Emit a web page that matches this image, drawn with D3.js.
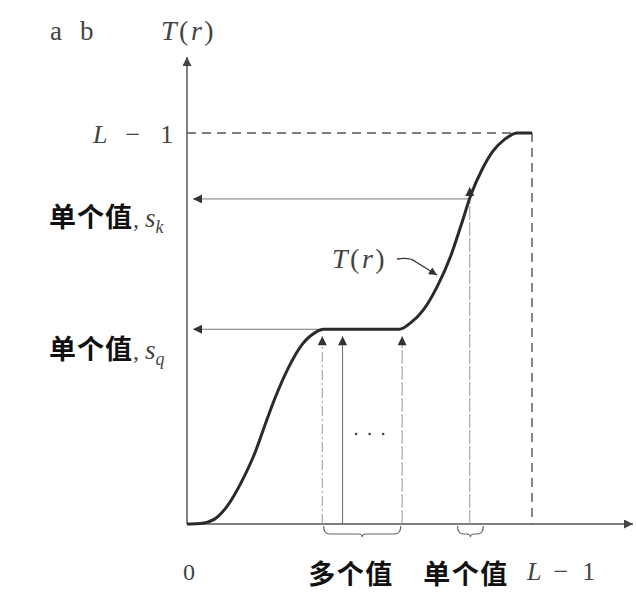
<!DOCTYPE html>
<html><head><meta charset="utf-8">
<script src="https://cdn.jsdelivr.net/npm/d3@7"></script>
<style>body{margin:0;background:#fff}</style>
</head><body>
<svg id="c" width="636" height="596"></svg>
<script>
// ---- data (intensity units, L-1 = 255) ----
const LMAX = 255;
const curveR = [0, 3, 10, 20, 30, 40, 50, 57, 65, 75, 85, 95, 101, 130, 157, 165, 175, 185, 195, 203, 210, 218, 226, 235, 244, 255];
const curveT = [0, 0, 0.3, 3, 12, 27, 46, 63, 82, 102, 117, 125, 127, 127, 127, 131, 140, 155, 175, 196, 215, 231, 243, 251, 255, 255];
const sQ = 127;            // single value s_q (plateau)
const sK = 212;            // single value s_k
const manyR = [100, 115, 159]; // many r values mapping to s_q
const manyStyle = ["dashdot", "solid", "dotted"];
const singleR = 209;       // single r mapping to s_k
const braceMany = [101, 158];
const braceSingle = [200, 219];
const xTickLabels = ["0", "多个值", "单个值"];
const yLabels = ["单个值", "单个值"];
const ySubs = ["k", "q"];

const svg = d3.select("#c");
const x = d3.scaleLinear().domain([0, LMAX]).range([187, 532]);
const y = d3.scaleLinear().domain([0, LMAX]).range([524, 133]);

const axisCol = "#555", thin = "#777";
const defs = svg.append("defs");
function marker(id, w, h, col) {
  defs.append("marker").attr("id", id).attr("viewBox", "0 0 10 10")
    .attr("refX", 10).attr("refY", 5).attr("markerWidth", w).attr("markerHeight", h)
    .attr("markerUnits", "userSpaceOnUse").attr("orient", "auto")
    .append("path").attr("d", "M0,0 L10,5 L0,10 Z").attr("fill", col);
}
marker("ax", 15, 9, "#444");
marker("ar", 15, 9, "#333");
marker("sm", 12, 8, "#333");

// axes
svg.append("line").attr("x1", x(0)).attr("y1", y(0)).attr("x2", x(0)).attr("y2", 57)
  .attr("stroke", axisCol).attr("stroke-width", 1.5).attr("marker-end", "url(#ax)");
svg.append("line").attr("x1", x(0)).attr("y1", y(0)).attr("x2", 633).attr("y2", y(0))
  .attr("stroke", axisCol).attr("stroke-width", 1.5).attr("marker-end", "url(#ax)");

// dashed L-1 guides
svg.append("path").attr("d", `M${x(0)},${y(LMAX)} H${x(LMAX)} V${y(0)}`)
  .attr("fill", "none").attr("stroke", "#555").attr("stroke-width", 1.4).attr("stroke-dasharray", "9,6");

// horizontal arrows to s_q and s_k
const curvePts = curveR.map((r, i) => [r, curveT[i]]);
svg.append("line").attr("x1", x(101)).attr("y1", y(sQ)).attr("x2", x(0) + 6).attr("y2", y(sQ))
  .attr("stroke", thin).attr("stroke-width", 1).attr("marker-end", "url(#ar)");
svg.append("line").attr("x1", x(208)).attr("y1", y(sK)).attr("x2", x(0) + 6).attr("y2", y(sK))
  .attr("stroke", thin).attr("stroke-width", 1).attr("marker-end", "url(#ar)");

// vertical arrows
const dashes = {dashdot: "10,3,2,3", solid: null, dotted: "14,2"};
manyR.forEach((r, i) => {
  svg.append("line").attr("x1", x(r)).attr("y1", y(0)).attr("x2", x(r)).attr("y2", y(sQ) + 7)
    .attr("stroke", i === 1 ? "#666" : "#999").attr("stroke-width", 1)
    .attr("stroke-dasharray", dashes[manyStyle[i]]).attr("marker-end", "url(#ar)");
});
svg.append("line").attr("x1", x(singleR)).attr("y1", y(0)).attr("x2", x(singleR)).attr("y2", y(sK) - 12)
  .attr("stroke", "#999").attr("stroke-width", 1).attr("stroke-dasharray", "14,2").attr("marker-end", "url(#ar)");

// curve
svg.append("path").datum(curvePts)
  .attr("d", d3.line().x(d => x(d[0])).y(d => y(d[1])).curve(d3.curveMonotoneX))
  .attr("fill", "none").attr("stroke", "#2a2a2a").attr("stroke-width", 3);

// dots
[125, 135, 145].forEach(r => svg.append("circle").attr("cx", x(r)).attr("cy", 434).attr("r", 1.3).attr("fill", "#444"));

// braces
function brace(r0, r1) {
  const a = x(r0), b = x(r1), m = (a + b) / 2, t = y(0) + 2, h = 8;
  svg.append("path")
    .attr("d", `M${a},${t} Q${a},${t + h} ${a + 6},${t + h} H${m - 4} Q${m},${t + h} ${m},${t + h + 3} Q${m},${t + h} ${m + 4},${t + h} H${b - 6} Q${b},${t + h} ${b},${t}`)
    .attr("fill", "none").attr("stroke", "#666").attr("stroke-width", 1.2);
}
brace(braceMany[0], braceMany[1]);
brace(braceSingle[0], braceSingle[1]);

// T(r) leader
svg.append("path").attr("d", "M397,259 Q410,257 416,262 L437,275")
  .attr("fill", "none").attr("stroke", "#333").attr("stroke-width", 1.3).attr("marker-end", "url(#sm)");

// texts
const serif = "'Liberation Serif','DejaVu Serif',serif";
const cjk = "'Noto Sans CJK SC',sans-serif";
const tcol = "#444";
svg.append("text").attr("x", 50).attr("y", 40).attr("font-family", serif).attr("font-size", 27).attr("fill", tcol).text("a");
svg.append("text").attr("x", 80).attr("y", 40).attr("font-family", serif).attr("font-size", 27).attr("fill", tcol).text("b");
function Tr(xp, yp, size) {
  const t = svg.append("text").attr("x", xp).attr("y", yp).attr("font-family", serif).attr("font-size", size)
    .attr("fill", tcol).attr("letter-spacing", 2.5);
  t.append("tspan").attr("font-style", "italic").text("T");
  t.append("tspan").text("(");
  t.append("tspan").attr("font-style", "italic").text("r");
  t.append("tspan").text(")");
}
Tr(161, 40, 28);
Tr(332, 268, 28);
function Lm1(xp, yp, sp1, sp2) {
  const t = svg.append("text").attr("x", xp).attr("y", yp).attr("font-family", serif).attr("font-size", 26).attr("fill", tcol);
  t.append("tspan").attr("font-style", "italic").text("L");
  t.append("tspan").attr("dx", sp1).text("−");
  t.append("tspan").attr("dx", sp2).text("1");
}
Lm1(93, 143, 18, 20);
Lm1(527, 580, 12, 14);

[sK, sQ].forEach((v, i) => {
  const t = svg.append("text").attr("x", 49).attr("y", y(v) + (i === 0 ? 28 : 30)).attr("fill", "#111");
  t.append("tspan").attr("font-family", cjk).attr("font-weight", 700).attr("font-size", 27).attr("letter-spacing", 1).text(yLabels[i]);
  t.append("tspan").attr("font-family", serif).attr("font-size", 24).attr("fill", tcol).text(", ");
  t.append("tspan").attr("font-family", serif).attr("font-style", "italic").attr("font-size", 27).attr("fill", tcol).text("s");
  t.append("tspan").attr("font-family", serif).attr("font-style", "italic").attr("font-size", 18).attr("fill", tcol).attr("dy", 6).text(ySubs[i]);
});

svg.append("text").attr("x", 189).attr("y", 580).attr("text-anchor", "middle").attr("font-family", serif)
  .attr("font-size", 24).attr("fill", tcol).text(xTickLabels[0]);
svg.append("text").attr("x", 351).attr("y", 584).attr("text-anchor", "middle").attr("font-family", cjk)
  .attr("font-weight", 700).attr("font-size", 27).attr("letter-spacing", 1.5).attr("fill", "#111").text(xTickLabels[1]);
svg.append("text").attr("x", 466).attr("y", 584).attr("text-anchor", "middle").attr("font-family", cjk)
  .attr("font-weight", 700).attr("font-size", 27).attr("letter-spacing", 1.5).attr("fill", "#111").text(xTickLabels[2]);
</script>
</body></html>
